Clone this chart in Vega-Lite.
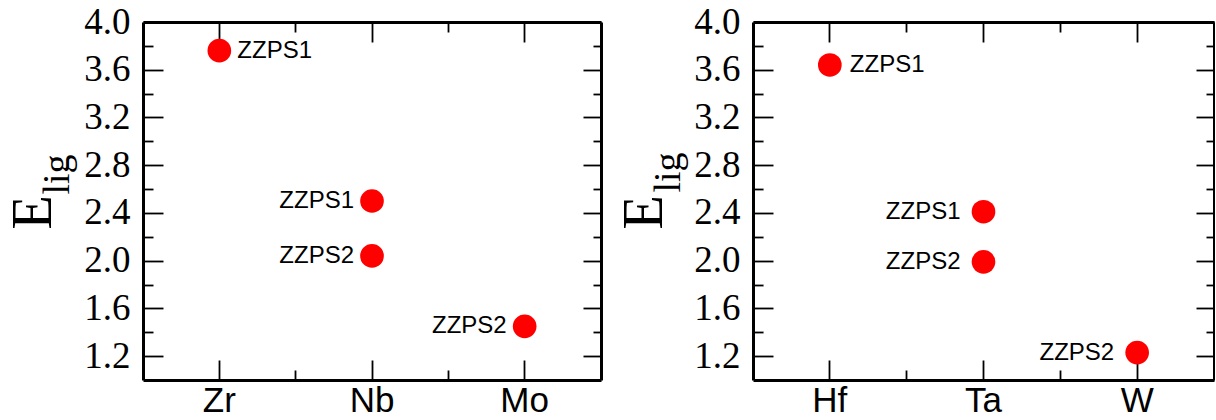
{
  "$schema": "https://vega.github.io/schema/vega-lite/v6.json",
  "padding": {"left": 5, "top": 3, "right": 0, "bottom": 0},
  "background": "white",
  "config": {
    "view": {"stroke": null},
    "axis": {"grid": false, "domainColor": "black", "tickColor": "black", "labelColor": "black", "titleColor": "black", "tickWidth": 1.8, "domainWidth": 3, "labelOverlap": false}
  },
  "data": {"values": [
    {"panel": "A", "element": "Zr", "label": "ZZPS1", "E": 3.76},
    {"panel": "A", "element": "Nb", "label": "ZZPS1", "E": 2.50},
    {"panel": "A", "element": "Nb", "label": "ZZPS2", "E": 2.04},
    {"panel": "A", "element": "Mo", "label": "ZZPS2", "E": 1.45},
    {"panel": "B", "element": "Hf", "label": "ZZPS1", "E": 3.64},
    {"panel": "B", "element": "Ta", "label": "ZZPS1", "E": 2.41},
    {"panel": "B", "element": "Ta", "label": "ZZPS2", "E": 1.99},
    {"panel": "B", "element": "W", "label": "ZZPS2", "E": 1.23}
  ]},
  "spacing": 14,
  "hconcat": [
    {
      "width": 458, "height": 358,
      "transform": [{"filter": "datum.panel === 'A'"}],
      "resolve": {"axis": {"x": "independent", "y": "independent"}},
      "layer": [
        {
          "mark": {"type": "point", "filled": true, "size": 560, "color": "#ff0000", "opacity": 1},
          "encoding": {
            "x": {"field": "element", "type": "nominal", "scale": {"type": "band", "domain": ["Zr", "Nb", "Mo"], "paddingInner": 0, "paddingOuter": 0},
              "axis": {"orient": "bottom", "bandPosition": 0.5, "tickSize": -20, "labelPadding": 23, "labelFont": "Liberation Sans", "labelFontSize": 35, "labelAngle": 0, "title": null, "domain": true}},
            "y": {"field": "E", "type": "quantitative", "scale": {"domain": [1, 4], "nice": false, "zero": false},
              "axis": {"orient": "left", "values": [1.2, 1.6, 2.0, 2.4, 2.8, 3.2, 3.6, 4.0], "format": ".1f", "tickSize": -20, "labelPadding": 33, "labelFont": "Liberation Serif", "labelFontSize": 37,
                "title": "E", "titleFont": "Liberation Serif", "titleFontSize": 56, "titleFontWeight": "normal", "titleX": -93, "titleY": 190, "titleAngle": 270, "titleBaseline": "alphabetic", "titleAlign": "center"}}
          }
        },
        {
          "transform": [{"filter": "datum.element === 'Zr'"}],
          "mark": {"type": "text", "align": "left", "baseline": "middle", "dx": 18, "font": "Liberation Sans", "fontSize": 24, "color": "black"},
          "encoding": {
            "x": {"field": "element", "type": "nominal", "axis": {"orient": "bottom", "values": ["Nb", "Mo"], "bandPosition": 0, "tickSize": -10, "labels": false, "domain": false, "title": null}},
            "y": {"field": "E", "type": "quantitative", "axis": {"orient": "left", "values": [1.4, 1.8, 2.2, 2.6, 3.0, 3.4, 3.8], "tickSize": -10, "labels": false, "domain": false, "title": null}},
            "text": {"field": "label"}
          }
        },
        {
          "transform": [{"filter": "datum.element !== 'Zr'"}],
          "mark": {"type": "text", "align": "right", "baseline": "middle", "dx": -18, "font": "Liberation Sans", "fontSize": 24, "color": "black"},
          "encoding": {
            "x": {"field": "element", "type": "nominal", "axis": {"orient": "top", "values": ["Zr", "Nb", "Mo"], "bandPosition": 0.5, "tickSize": -20, "labels": false, "domain": true, "title": null}},
            "y": {"field": "E", "type": "quantitative", "axis": {"orient": "right", "values": [1.2, 1.6, 2.0, 2.4, 2.8, 3.2, 3.6, 4.0], "tickSize": -18, "labels": false, "domain": true,
              "title": "lig", "titleFont": "Liberation Serif", "titleFontSize": 38, "titleFontWeight": "normal", "titleX": -533, "titleY": 152, "titleAngle": 270, "titleBaseline": "alphabetic", "titleAlign": "center"}},
            "text": {"field": "label"}
          }
        },
        {
          "mark": {"type": "point", "filled": true, "size": 560, "opacity": 0},
          "encoding": {
            "x": {"field": "element", "type": "nominal", "axis": {"orient": "top", "values": ["Nb", "Mo"], "bandPosition": 0, "tickSize": -10, "labels": false, "domain": false, "title": null}},
            "y": {"field": "E", "type": "quantitative", "axis": {"orient": "right", "values": [1.4, 1.8, 2.2, 2.6, 3.0, 3.4, 3.8], "tickSize": -8, "labels": false, "domain": false, "title": null}}
          }
        }
      ]
    },
    {
      "width": 461, "height": 358,
      "transform": [{"filter": "datum.panel === 'B'"}],
      "resolve": {"axis": {"x": "independent", "y": "independent"}},
      "layer": [
        {
          "mark": {"type": "point", "filled": true, "size": 560, "color": "#ff0000", "opacity": 1},
          "encoding": {
            "x": {"field": "element", "type": "nominal", "scale": {"type": "band", "domain": ["Hf", "Ta", "W"], "paddingInner": 0, "paddingOuter": 0},
              "axis": {"orient": "bottom", "bandPosition": 0.5, "tickSize": -20, "labelPadding": 23, "labelFont": "Liberation Sans", "labelFontSize": 35, "labelAngle": 0, "title": null, "domain": true}},
            "y": {"field": "E", "type": "quantitative", "scale": {"domain": [1, 4], "nice": false, "zero": false},
              "axis": {"orient": "left", "values": [1.2, 1.6, 2.0, 2.4, 2.8, 3.2, 3.6, 4.0], "format": ".1f", "tickSize": -20, "labelPadding": 33, "labelFont": "Liberation Serif", "labelFontSize": 37,
                "title": "E", "titleFont": "Liberation Serif", "titleFontSize": 56, "titleFontWeight": "normal", "titleX": -92, "titleY": 190, "titleAngle": 270, "titleBaseline": "alphabetic", "titleAlign": "center"}}
          }
        },
        {
          "transform": [{"filter": "datum.element === 'Hf'"}],
          "mark": {"type": "text", "align": "left", "baseline": "middle", "dx": 20, "font": "Liberation Sans", "fontSize": 24, "color": "black"},
          "encoding": {
            "x": {"field": "element", "type": "nominal", "axis": {"orient": "bottom", "values": ["Ta", "W"], "bandPosition": 0, "tickSize": -10, "labels": false, "domain": false, "title": null}},
            "y": {"field": "E", "type": "quantitative", "axis": {"orient": "left", "values": [1.4, 1.8, 2.2, 2.6, 3.0, 3.4, 3.8], "tickSize": -10, "labels": false, "domain": false, "title": null}},
            "text": {"field": "label"}
          }
        },
        {
          "transform": [{"filter": "datum.element !== 'Hf'"}],
          "mark": {"type": "text", "align": "right", "baseline": "middle", "dx": -23, "font": "Liberation Sans", "fontSize": 24, "color": "black"},
          "encoding": {
            "x": {"field": "element", "type": "nominal", "axis": {"orient": "top", "values": ["Hf", "Ta", "W"], "bandPosition": 0.5, "tickSize": -20, "labels": false, "domain": true, "title": null}},
            "y": {"field": "E", "type": "quantitative", "axis": {"orient": "right", "values": [1.2, 1.6, 2.0, 2.4, 2.8, 3.2, 3.6, 4.0], "tickSize": -18, "labels": false, "domain": true,
              "title": "lig", "titleFont": "Liberation Serif", "titleFontSize": 38, "titleFontWeight": "normal", "titleX": -535, "titleY": 150, "titleAngle": 270, "titleBaseline": "alphabetic", "titleAlign": "center"}},
            "text": {"field": "label"}
          }
        },
        {
          "mark": {"type": "point", "filled": true, "size": 560, "opacity": 0},
          "encoding": {
            "x": {"field": "element", "type": "nominal", "axis": {"orient": "top", "values": ["Ta", "W"], "bandPosition": 0, "tickSize": -10, "labels": false, "domain": false, "title": null}},
            "y": {"field": "E", "type": "quantitative", "axis": {"orient": "right", "values": [1.4, 1.8, 2.2, 2.6, 3.0, 3.4, 3.8], "tickSize": -8, "labels": false, "domain": false, "title": null}}
          }
        }
      ]
    }
  ]
}
